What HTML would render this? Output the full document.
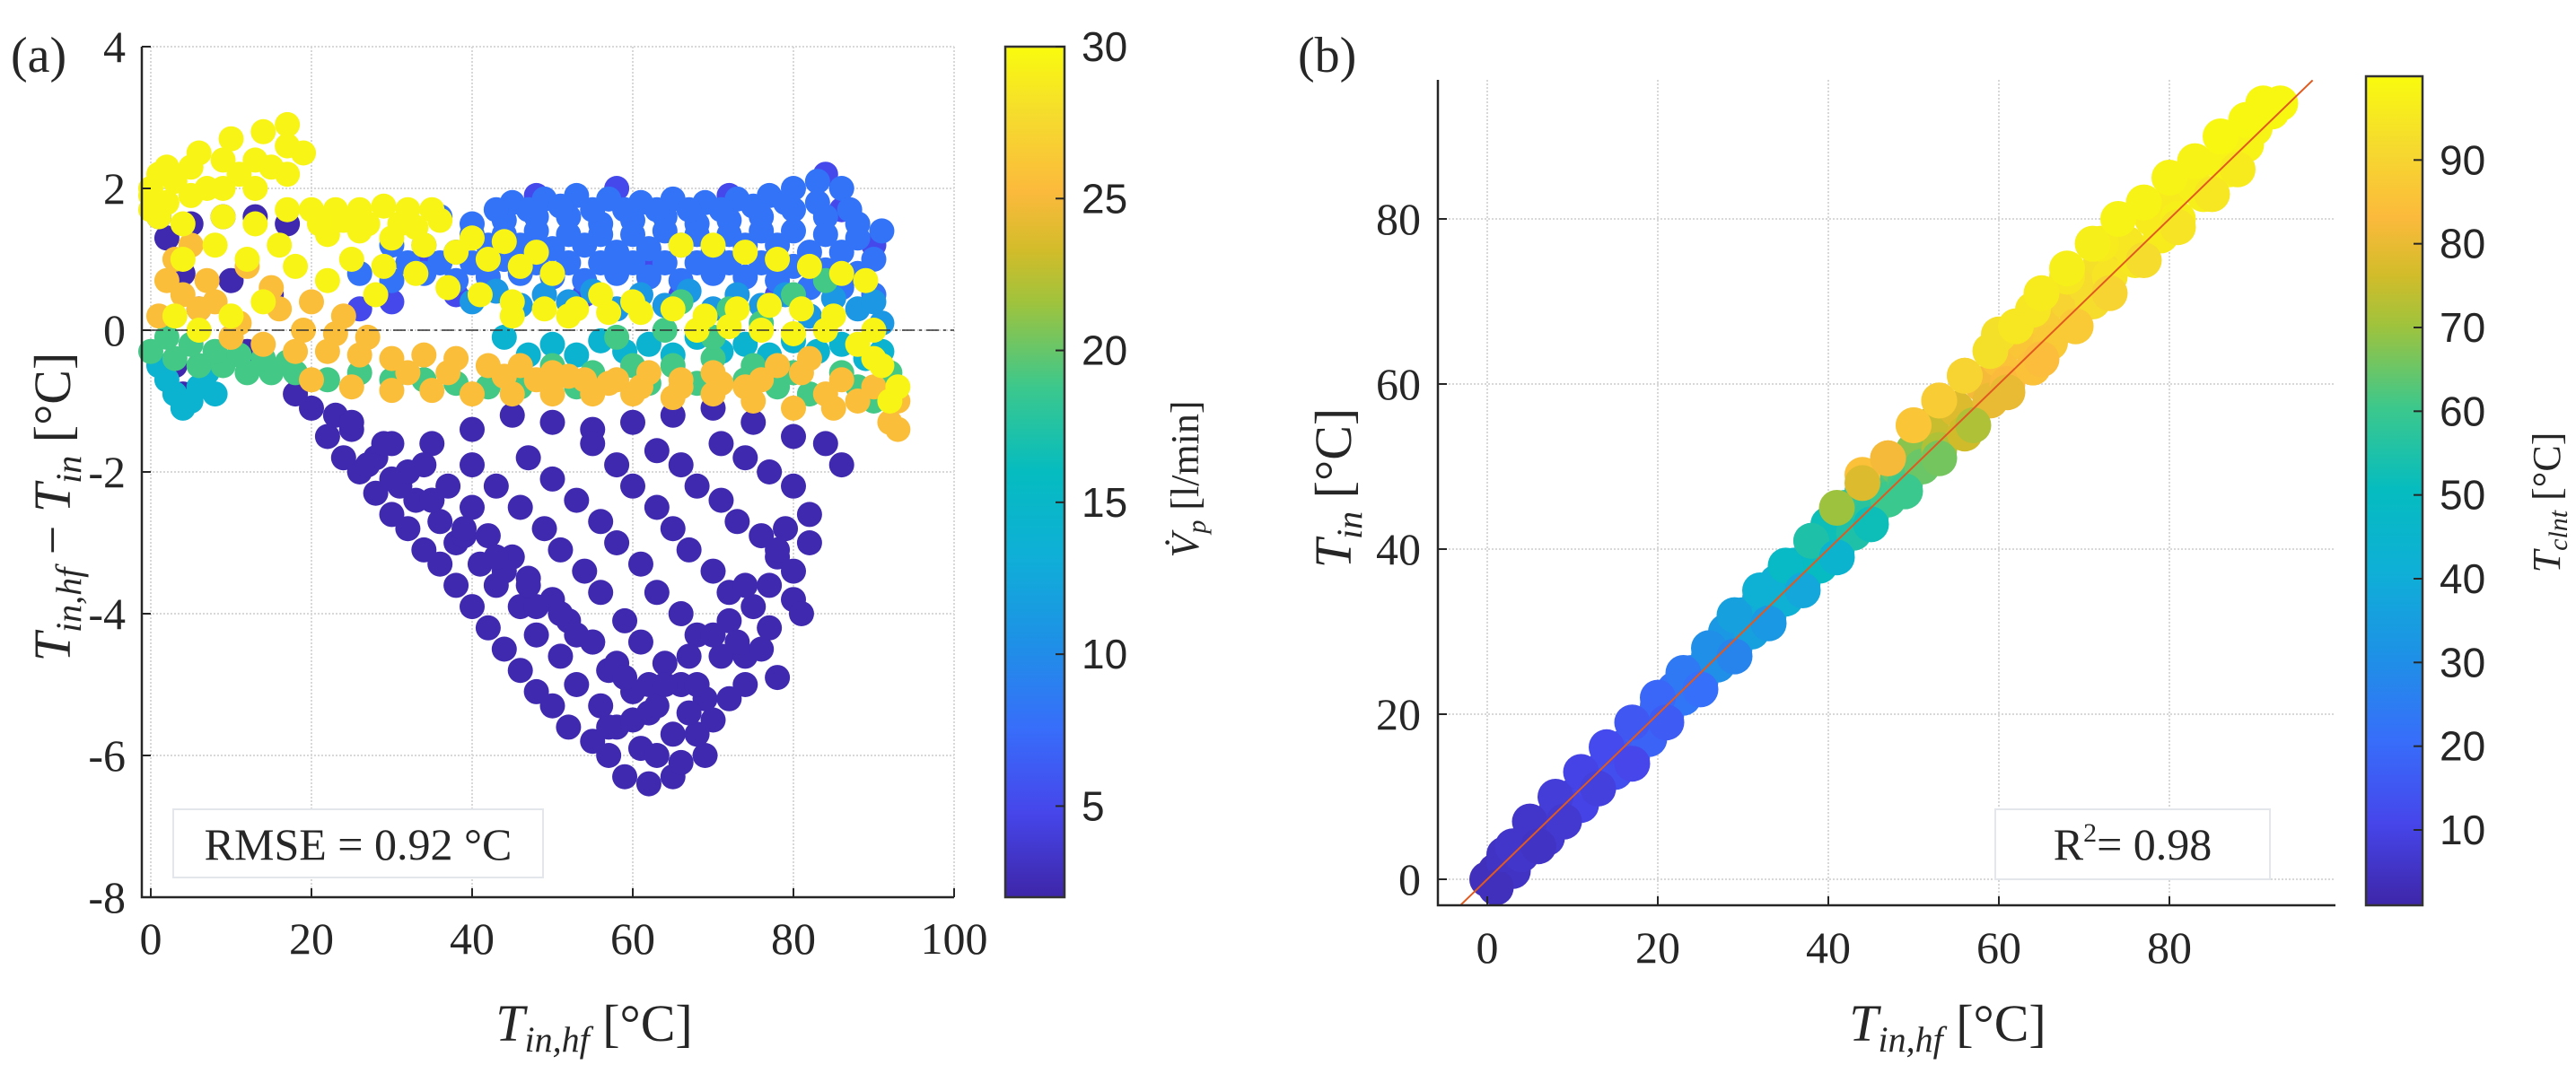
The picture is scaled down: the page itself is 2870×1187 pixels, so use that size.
<!DOCTYPE html>
<html><head><meta charset="utf-8"><style>
html,body{margin:0;padding:0;background:#fff;}
svg{display:block;}
.ser{font-family:"Liberation Serif",serif;fill:#262626;}
.san{font-family:"Liberation Sans",sans-serif;fill:#262626;}
</style></head><body>
<svg id="fig" width="2870" height="1187" viewBox="0 0 2870 1187" xmlns="http://www.w3.org/2000/svg">
<defs>
<linearGradient id="parA" x1="0" y1="1" x2="0" y2="0"></linearGradient>
</defs>
<g id="panelA"></g>
<g id="panelB"></g>
</svg>
<script>
// ---- Panel (a) data: groups with constant flow rate ----
const aPurpleX=[20,25,30,35,40,45,50,55,60,65,70,75,80,84,86,22,24,26,28,30,32,34,36,38,40,42,44,46,48,50,52,55,57,59,62,65,28,30,33,36,38,41,43,46,48,51,53,56,58,61,63,66,69,34,37,40,42,45,47,50,52,55,57,60,62,65,68,70,40,43,46,49,51,54,56,59,61,64,66,69,72,74,47,50,53,56,58,61,63,66,68,71,74,76,78,55,58,60,63,65,67,70,72,75,77,80,63,66,68,71,73,76,78,80,82,81,71,74,77,80,79,1,2,4,5,9,13,17,3,4,6,10,12,15,
 18,23,27,31,35,39,44,48,53,58,62,67,72,77,82,25,29,32,35,39,43,47,51,55,59,63,68,73,57,60,64,67,70,74,78];
const aPurpleY=[-1.1,-1.4,-1.6,-1.6,-1.4,-1.2,-1.3,-1.4,-1.3,-1.2,-1.1,-1.3,-1.5,-1.6,-1.9,-1.5,-1.8,-2.0,-2.3,-2.6,-2.8,-3.1,-3.3,-3.6,-3.9,-4.2,-4.5,-4.8,-5.1,-5.3,-5.6,-5.8,-6.0,-6.3,-6.4,-6.3,-1.8,-2.1,-2.4,-2.7,-3.0,-3.3,-3.6,-3.9,-4.3,-4.6,-5.0,-5.3,-5.6,-5.9,-6.0,-6.1,-6.0,-1.9,-2.2,-2.5,-2.9,-3.2,-3.5,-3.8,-4.1,-4.4,-4.8,-5.1,-5.4,-5.7,-5.7,-5.5,-1.9,-2.2,-2.5,-2.8,-3.1,-3.4,-3.7,-4.1,-4.4,-4.7,-5.0,-5.2,-5.2,-5.0,-1.8,-2.1,-2.4,-2.7,-3.0,-3.3,-3.7,-4.0,-4.3,-4.6,-4.6,-4.5,-4.9,-1.6,-1.9,-2.2,-2.5,-2.8,-3.1,-3.4,-3.7,-3.9,-4.2,-3.8,-1.7,-1.9,-2.2,-2.4,-2.7,-2.9,-3.2,-3.4,-3.0,-4.0,-1.6,-1.8,-2.0,-2.2,-2.8,1.6,1.3,0.8,1.5,1.6,1.6,1.5,-0.5,-0.9,0.3,0.7,-0.3,0.5,
 -0.9,-1.2,-1.9,-2.2,-2.4,-2.9,-3.4,-3.9,-4.3,-4.7,-5.0,-5.4,-4.1,-3.6,-2.6,-1.3,-1.6,-2.0,-2.4,-2.8,-3.2,-3.6,-4.0,-4.4,-4.9,-5.3,-5.0,-4.4,-5.6,-5.5,-5.0,-4.6,-4.3,-3.6,-3.1];
const aPurpleV=2.3;
const aBlueX=[45,49,53,57,61,65,69,73,77,80,83,86,36,40,44,48,52,56,60,64,68,72,76,80,84,88,91,30,34,38,42,46,50,54,58,62,66,70,74,78,82,86,90,26,30,34,38,42,46,50,54,58,62,66,70,74,78,82,86,90,
 43,47,51,55,59,63,67,71,75,79,83,87,40,44,48,52,56,60,64,68,72,76,80,84,88,32,36,40,44,48,52,56,60,64,68,72,76,80,84,88];
const aBlueY=[1.8,1.85,1.9,1.85,1.8,1.85,1.8,1.85,1.9,2.0,2.1,2.0,1.6,1.5,1.55,1.6,1.6,1.5,1.55,1.6,1.5,1.55,1.6,1.7,1.6,1.5,1.4,1.2,1.2,1.1,1.2,1.2,1.15,1.2,1.1,1.15,1.2,1.1,1.2,1.2,1.1,1.1,1.0,0.8,0.7,0.8,0.7,0.75,0.8,0.75,0.7,0.8,0.75,0.7,0.8,0.75,0.7,0.6,0.6,0.5,
 1.7,1.7,1.75,1.7,1.7,1.7,1.7,1.7,1.75,1.8,1.8,1.7,1.35,1.35,1.4,1.35,1.35,1.35,1.4,1.35,1.35,1.4,1.4,1.35,1.3,0.95,0.95,0.95,1.0,0.95,0.95,0.95,0.95,0.95,0.95,0.95,0.95,0.9,0.85,0.8];
const aBlueV=8;
const aDarkBlueX=[48,58,72,84,86,90,62,44,34,38,54,66,78,30,26];
const aDarkBlueY=[1.9,2.0,1.9,2.2,1.7,1.2,1.0,1.0,0.9,0.5,0.5,0.5,0.5,0.4,0.3];
const aDarkBlueV=5;
const aLightBlueX=[40,46,52,58,64,70,76,82,88,91,43,49,55,61,67,73,79,85,90];
const aLightBlueY=[0.4,0.35,0.4,0.3,0.35,0.3,0.35,0.2,0.3,0.1,0.55,0.5,0.55,0.5,0.55,0.5,0.5,0.45,0.4];
const aLightBlueV=11;
const aTealX=[44,50,56,62,68,74,80,86,91,2,3,4,6,8,1,47,53,59,65,71,77,83,89,5,7];
const aTealY=[-0.1,-0.2,-0.15,-0.2,-0.1,-0.2,-0.15,-0.2,-0.3,-0.7,-0.9,-1.1,-0.8,-0.9,-0.5,-0.35,-0.35,-0.3,-0.35,-0.3,-0.35,-0.3,-0.4,-1.0,-0.6];
const aTealV=14;
const aGreenX=[0,3,6,9,12,15,18,22,26,30,50,55,60,65,70,75,78,82,86,90,58,64,70,76,72,66,80,84,2,5,8,11,14,17,34,38,42,46,53,62,68,74,80,88,92];
const aGreenY=[-0.3,-0.4,-0.5,-0.5,-0.6,-0.6,-0.6,-0.7,-0.6,-0.7,-0.5,-0.6,-0.5,-0.5,-0.4,-0.5,-0.8,-0.9,-0.6,-1.0,-0.1,0.0,-0.1,0.1,0.3,0.4,0.5,0.7,-0.1,-0.2,-0.3,-0.35,-0.4,-0.45,-0.7,-0.75,-0.8,-0.8,-0.8,-0.75,-0.75,-0.7,-0.6,-0.8,-0.6];
const aGreenV=19;
const aOrangeX=[2,4,6,10,14,18,22,26,30,34,38,42,46,50,54,58,62,66,70,74,78,82,86,88,92,93,20,25,30,35,40,45,50,55,60,65,70,75,80,85,3,5,8,12,16,20,24,
 1,7,11,15,19,23,27,32,37,44,48,52,57,61,66,71,76,81,84,90,93];
const aOrangeY=[0.7,0.5,0.3,-0.1,-0.2,-0.3,-0.3,-0.35,-0.4,-0.35,-0.4,-0.5,-0.5,-0.6,-0.7,-0.7,-0.6,-0.7,-0.6,-0.8,-0.5,-0.4,-0.7,-1.0,-1.3,-1.0,-0.7,-0.8,-0.85,-0.85,-0.9,-0.9,-0.9,-0.9,-0.9,-0.95,-0.9,-1.0,-1.1,-1.1,1.0,1.2,0.4,0.9,0.3,0.4,0.2,
 0.2,0.7,0.1,0.6,0.0,-0.05,-0.1,-0.6,-0.6,-0.65,-0.7,-0.65,-0.75,-0.8,-0.8,-0.75,-0.7,-0.6,-0.9,-0.8,-1.4];
const aOrangeV=25.5;
const aYellowX=[0,0,1,2,1,4,4,5,5,6,8,9,9,9,10,12,13,13,13,14,16,17,17,17,17,20,23,26,29,32,35,22,26,30,34,38,42,46,50,25,29,33,37,41,45,49,53,57,61,65,69,73,77,81,85,90,66,70,74,78,82,86,89,56,52,60,90,92,45,28,22,18,14,10,6,3,
 0,2,3,7,11,15,19,21,24,27,31,33,36,40,44,48,68,72,76,80,84,88,91,93];
const aYellowY=[1.7,2.0,2.2,2.3,1.6,1.0,1.5,1.9,2.3,2.5,1.2,1.6,2.0,2.4,2.7,1.0,1.5,2.0,2.4,2.8,1.2,1.7,2.2,2.6,2.9,1.7,1.7,1.7,1.75,1.7,1.7,1.35,1.4,1.3,1.2,1.1,1.0,0.9,0.8,1.0,0.9,0.8,0.6,0.5,0.4,0.3,0.3,0.25,0.25,0.3,0.2,0.3,0.35,0.3,0.2,0.0,1.2,1.2,1.1,1.0,0.9,0.8,0.7,0.5,0.2,0.4,-0.4,-1.0,0.2,0.5,0.7,0.9,0.4,0.2,0.0,0.2,
 1.9,1.8,2.1,2.0,2.2,2.3,2.5,1.5,1.55,1.5,1.5,1.45,1.55,1.3,1.25,1.1,0.0,0.05,0.0,-0.05,0.0,-0.2,-0.5,-0.8];
const aYellowV=29.5;
const aXTicks=[0,20,40,60,80,100];
const aYTicks=[4,2,0,-2,-4,-6,-8];
const aCbTicks=[5,10,15,20,25,30];

// ---- Panel (b) data ----
const bX=[0,1,2,3,1,2,3,4,6,7,8,9,10,11,12,13,14,15,16,17,18,19,20,21,22,23,24,25,26,27,28,29,30,31,32,33,34,35,36,37,38,39,40,41,42,43,44,45,46,47,48,49,50,51,52,53,55,56,58,59,60,61,63,64,65,66,68,69,70,71,72,73,75,76,78,79,80,81,83,84,86,87,89,90,92,93,44,47,50,53,56,60,64,68,72,
 5,8,11,14,17,20,23,26,29,32,35,38,41,44,47,50,53,56,59,62,65,68,71,74,77,80,83,86,89,91,6,9,13,17,21,25,29,33,37,41,45,49,53,57,61,65,69,73,77,81,85,88];
const bY=[0,1,2,1,-1,3,4,3,6,5,8,7,10,9,12,11,14,13,16,15,18,17,21,20,23,22,25,24,27,26,30,28,32,30,34,32,36,34,38,36,41,38,43,40,45,42,47,44,48,46,50,48,52,50,55,52,57,54,60,58,63,60,65,62,68,65,70,67,72,70,75,73,77,75,80,78,82,80,84,83,87,86,89,91,93,94,49,51,55,58,61,66,69,73,77,
 7,10,13,16,19,22,25,28,32,35,38,41,45,48,51,55,58,61,64,67,71,74,77,80,82,85,87,90,92,94,4,7,11,14,19,23,27,31,35,39,43,47,51,55,59,63,67,71,75,79,83,86];
const bC=[4,4,5,5,4,5,6,6,7,7,8,8,9,10,11,11,12,13,15,15,17,18,20,20,22,23,25,25,30,30,33,33,36,36,38,40,42,42,45,45,48,50,52,52,55,55,58,57,62,60,65,62,68,65,75,72,78,76,82,80,85,83,86,85,88,87,90,90,92,92,93,94,95,95,96,96,96,97,97,97,98,98,98,98,99,99,85,82,86,88,90,93,95,95,96,
 6,8,10,12,15,19,24,30,36,42,48,55,70,78,82,86,88,90,93,95,96,97,97,98,98,98,98,99,99,99,5,7,9,11,16,21,27,33,38,44,52,60,66,72,80,84,87,90,92,94,95,96];
const bXTicks=[0,20,40,60,80];
const bYTicks=[0,20,40,60,80];
const bCbTicks=[10,20,30,40,50,60,70,80,90];

// ---- colormap (parula-like) ----
const stops=[[0,62,38,168],[0.1,70,70,235],[0.2,55,110,250],[0.3,30,145,230],[0.4,15,175,215],[0.5,5,188,192],[0.6,60,200,140],[0.7,160,195,60],[0.76,210,188,42],[0.83,252,186,60],[0.92,245,220,45],[1,249,251,14]];
function cmap(t){t=Math.max(0,Math.min(1,t));for(let i=1;i<stops.length;i++){if(t<=stops[i][0]){const a=stops[i-1],b=stops[i];const f=(t-a[0])/(b[0]-a[0]);return `rgb(${Math.round(a[1]+f*(b[1]-a[1]))},${Math.round(a[2]+f*(b[2]-a[2]))},${Math.round(a[3]+f*(b[3]-a[3]))})`;}}return 'rgb(249,251,14)';}
const NS='http://www.w3.org/2000/svg';
function mk(parent,tag,attrs,text){const e=document.createElementNS(NS,tag);for(const k in attrs)e.setAttribute(k,attrs[k]);if(text!==undefined)e.textContent=text;parent.appendChild(e);return e;}
const grad=document.getElementById('parA');
stops.forEach(s=>{mk(grad,'stop',{offset:s[0],'stop-color':cmap(s[0])});});

// ===== Panel A =====
const A=document.getElementById('panelA');
const aL=158,aR=1063,aT=52,aB=1000;
const ax=v=>168+v*8.95, ay=v=>368-v*79;
aXTicks.forEach(t=>{const l=mk(A,'line',{x1:ax(t),x2:ax(t),y1:aT,y2:aB,stroke:'#d8d8d8','stroke-width':2,'stroke-dasharray':'2,2'});

});
aYTicks.forEach(t=>{const l=mk(A,'line',{x1:aL,x2:aR,y1:ay(t),y2:ay(t),stroke:'#d8d8d8','stroke-width':2,'stroke-dasharray':'2,2'});

});
const aGroups=[[aPurpleX,aPurpleY,aPurpleV],[aDarkBlueX,aDarkBlueY,aDarkBlueV],[aBlueX,aBlueY,aBlueV],[aLightBlueX,aLightBlueY,aLightBlueV],[aTealX,aTealY,aTealV],[aGreenX,aGreenY,aGreenV],[aOrangeX,aOrangeY,aOrangeV],[aYellowX,aYellowY,aYellowV]];
const aDots=mk(A,'g',{});


aGroups.forEach(g=>{const col=cmap((g[2]-2)/28);g[0].forEach((x,i)=>{const c=mk(aDots,'circle',{cx:ax(x),cy:ay(g[1][i]),r:14,fill:col});

});});
const zl=mk(A,'line',{x1:ax(0),x2:aR,y1:ay(0),y2:ay(0),stroke:'#333','stroke-width':1.5,'stroke-dasharray':'14,5,3,5'});


const aAx=mk(A,'path',{d:`M${aL},${aT} V${aB} H${aR}`,fill:'none',stroke:'#262626','stroke-width':2.5});


aXTicks.forEach(t=>{mk(A,'line',{x1:ax(t),x2:ax(t),y1:aB,y2:aB-10,stroke:'#262626','stroke-width':2});
const tx=mk(A,'text',{x:ax(t),y:1063,'text-anchor':'middle','font-size':50,class:'ser'},t);

});
aYTicks.forEach(t=>{mk(A,'line',{x1:aL,x2:aL+10,y1:ay(t),y2:ay(t),stroke:'#262626','stroke-width':2});
const tx=mk(A,'text',{x:140,y:ay(t)+17,'text-anchor':'end','font-size':50,class:'ser'},t);

});
// colorbar a
const cbA={x:1120,w:66,t:52,b:1000,min:2,max:30};
const cbr=mk(A,'rect',{x:cbA.x,y:cbA.t,width:cbA.w,height:cbA.b-cbA.t,fill:'url(#parA)',stroke:'#333','stroke-width':2.5});


aCbTicks.forEach(t=>{const y=cbA.b-(t-cbA.min)/(cbA.max-cbA.min)*(cbA.b-cbA.t);
mk(A,'line',{x1:cbA.x+cbA.w-10,x2:cbA.x+cbA.w,y1:y,y2:y,stroke:'#262626','stroke-width':2});
const tx=mk(A,'text',{x:1205,y:y+16,'font-size':46,class:'san'},t);

});

// ===== Panel B =====
const B=document.getElementById('panelB');
const bL=1602,bR=2602,bT=89,bB=1009;
const bx=v=>1657+v*9.5, by=v=>980-v*9.2;
bXTicks.forEach(t=>{const l=mk(B,'line',{x1:bx(t),x2:bx(t),y1:bT,y2:bB,stroke:'#d8d8d8','stroke-width':2,'stroke-dasharray':'2,2'});

});
bYTicks.forEach(t=>{const l=mk(B,'line',{x1:bL,x2:bR,y1:by(t),y2:by(t),stroke:'#d8d8d8','stroke-width':2,'stroke-dasharray':'2,2'});

});
const bDots=mk(B,'g',{});


bX.forEach((x,i)=>{const c=mk(bDots,'circle',{cx:bx(x),cy:by(bY[i]),r:20,fill:cmap((bC[i]-1)/99)});

});
const fit=mk(B,'line',{x1:bx(-3.2),y1:by(-3.2),x2:bx(96.8),y2:by(96.8),stroke:'#e05a20','stroke-width':2});


const bAx=mk(B,'path',{d:`M${bL},${bT} V${bB} H${bR}`,fill:'none',stroke:'#262626','stroke-width':2.5});


bXTicks.forEach(t=>{mk(B,'line',{x1:bx(t),x2:bx(t),y1:bB,y2:bB-10,stroke:'#262626','stroke-width':2});
const tx=mk(B,'text',{x:bx(t),y:1073,'text-anchor':'middle','font-size':50,class:'ser'},t);

});
bYTicks.forEach(t=>{mk(B,'line',{x1:bL,x2:bL+10,y1:by(t),y2:by(t),stroke:'#262626','stroke-width':2});
const tx=mk(B,'text',{x:1583,y:by(t)+17,'text-anchor':'end','font-size':50,class:'ser'},t);

});
const cbB={x:2636,w:63,t:85,b:1009,min:1,max:100};
const cbr2=mk(B,'rect',{x:cbB.x,y:cbB.t,width:cbB.w,height:cbB.b-cbB.t,fill:'url(#parA)',stroke:'#333','stroke-width':2.5});


bCbTicks.forEach(t=>{const y=cbB.b-(t-cbB.min)/(cbB.max-cbB.min)*(cbB.b-cbB.t);
mk(B,'line',{x1:cbB.x+cbB.w-10,x2:cbB.x+cbB.w,y1:y,y2:y,stroke:'#262626','stroke-width':2});
const tx=mk(B,'text',{x:2718,y:y+16,'font-size':46,class:'san'},t);

});
</script>
<svg width="2870" height="1187" viewBox="0 0 2870 1187" style="position:absolute;left:0;top:0" xmlns="http://www.w3.org/2000/svg">
<text class="ser" x="12" y="80" font-size="56">(a)</text>
<text class="ser" x="1446" y="80" font-size="56">(b)</text>
<g>
<rect x="193" y="902" width="412" height="76" fill="#fff" stroke="#e3e6ea" stroke-width="2"/>
<text class="ser" x="399" y="958" font-size="50" text-anchor="middle" fill="#000">RMSE = 0.92 °C</text>
</g>
<g>
<rect x="2223" y="902" width="306" height="78" fill="#fff" stroke="#e3e6ea" stroke-width="2"/>
<text class="ser" x="2376" y="958" font-size="50" text-anchor="middle" fill="#000">R<tspan font-size="30" dy="-20">2</tspan><tspan dy="20">= 0.98</tspan></text>
</g>
<text class="ser" transform="translate(78,565) rotate(-90)" font-size="58" text-anchor="middle"><tspan font-style="italic">T</tspan><tspan font-style="italic" font-size="40" dy="12">in,hf</tspan><tspan dy="-12"> − </tspan><tspan font-style="italic">T</tspan><tspan font-style="italic" font-size="40" dy="12">in</tspan><tspan dy="-12">  [°C]</tspan></text>
<text class="ser" x="662" y="1160" font-size="58" text-anchor="middle"><tspan font-style="italic">T</tspan><tspan font-style="italic" font-size="40" dy="12">in,hf</tspan><tspan dy="-12"> [°C]</tspan></text>
<text class="ser" transform="translate(1335,534) rotate(-90)" font-size="44" text-anchor="middle"><tspan font-style="italic">V̇</tspan><tspan font-style="italic" font-size="30" dy="8">p</tspan><tspan dy="-8"> [l/min]</tspan></text>
<text class="ser" transform="translate(1505,544) rotate(-90)" font-size="58" text-anchor="middle"><tspan font-style="italic">T</tspan><tspan font-style="italic" font-size="40" dy="12">in</tspan><tspan dy="-12">  [°C]</tspan></text>
<text class="ser" x="2170" y="1160" font-size="58" text-anchor="middle"><tspan font-style="italic">T</tspan><tspan font-style="italic" font-size="40" dy="12">in,hf</tspan><tspan dy="-12"> [°C]</tspan></text>
<text class="ser" transform="translate(2852,560) rotate(-90)" font-size="44" text-anchor="middle"><tspan font-style="italic">T</tspan><tspan font-style="italic" font-size="30" dy="8">clnt</tspan><tspan dy="-8"> [°C]</tspan></text>
</svg>
</body></html>
